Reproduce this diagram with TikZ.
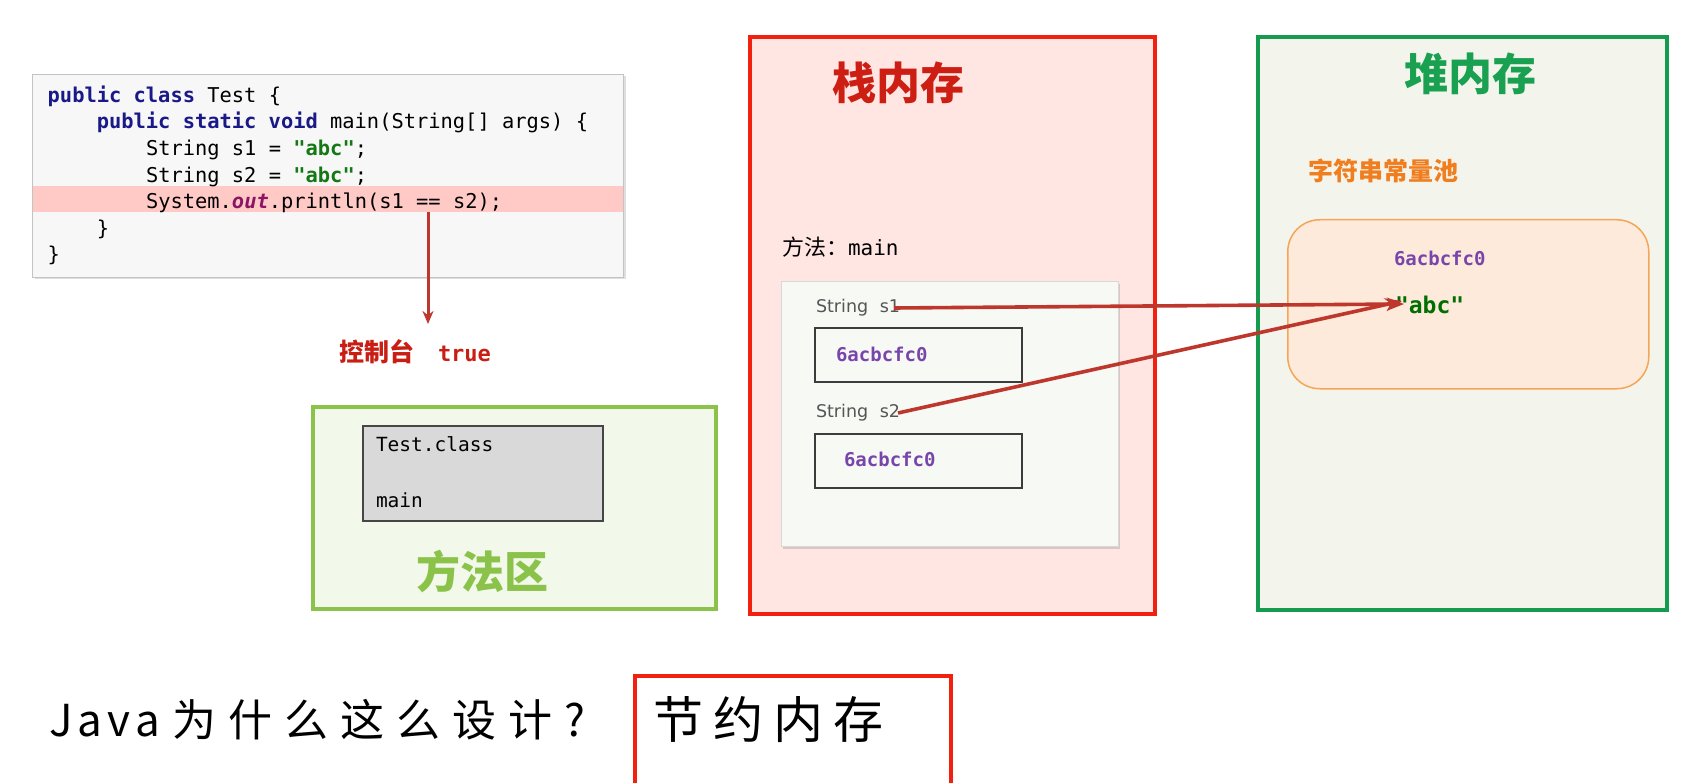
\documentclass[tikz,border=0pt]{standalone}
\usepackage{fontspec}
\setmainfont{DejaVu Sans}
\setmonofont{DejaVu Sans Mono}
\newfontfamily\cjk{Noto Sans CJK SC}
\usetikzlibrary{arrows.meta,shadows}
\definecolor{kw}{RGB}{25,25,135}
\definecolor{strg}{RGB}{20,120,20}
\definecolor{outc}{RGB}{140,20,100}
\definecolor{hl}{RGB}{255,202,198}
\definecolor{codebg}{RGB}{247,247,247}
\definecolor{arr}{RGB}{190,55,45}
\definecolor{conred}{RGB}{200,30,20}
\definecolor{mgreen}{RGB}{139,195,74}
\definecolor{mgreenbg}{RGB}{242,248,234}
\definecolor{sred}{RGB}{242,32,15}
\definecolor{sredbg}{RGB}{255,230,227}
\definecolor{stitle}{RGB}{205,30,20}
\definecolor{hgreen}{RGB}{20,155,80}
\definecolor{hgreenbg}{RGB}{243,245,237}
\definecolor{orangec}{RGB}{240,125,30}
\definecolor{poolbg}{RGB}{253,234,218}
\definecolor{poolbd}{RGB}{245,165,85}
\definecolor{addr}{RGB}{120,70,170}
\definecolor{abcc}{RGB}{0,110,0}
\tikzset{
  txt/.style={inner sep=0pt, outer sep=0pt},
  code/.style={txt, anchor=base west, font=\fontsize{20.4}{24}\ttfamily},
  area/.style={line width=4pt, anchor=north west},
  cell/.style={draw={rgb,255:red,60;green,60;blue,60}, line width=2.2pt, fill={rgb,255:red,247;green,249;blue,245}, anchor=north west, minimum width=207pt, minimum height=54pt, inner sep=0pt},
  addrtxt/.style={txt, anchor=west, text=addr, font=\fontsize{19}{22}\ttfamily\bfseries},
  ptr/.style={draw=arr, line width=3.6pt, -{Stealth[length=17pt,width=13pt]}},
  bigtitle/.style={txt, font=\fontsize{44}{50}\cjk\bfseries},
}
\begin{document}
\begin{tikzpicture}[x=1pt,y=-1pt]
\useasboundingbox (0,0) rectangle (1699,783);
\fill[white] (0,0) rectangle (1699,783);

% ---- code box
\node[draw={rgb,255:red,195;green,195;blue,195}, fill=codebg, line width=1pt, anchor=north west, minimum width=591pt, minimum height=203pt, inner sep=0pt, drop shadow={shadow xshift=2pt, shadow yshift=-2pt, opacity=0.25}] (codebox) at (32,74) {};
\fill[hl] (32.5,186) rectangle (622.5,212);
\node[code] (l1) at (47.7,103) {{\bfseries\color{kw}public class} Test \{};
\node[code] (l2) at (96.8,129) {{\bfseries\color{kw}public static void} main(String[] args) \{};
\node[code] (l3) at (146,156) {String s1 = {\bfseries\color{strg}"abc"};};
\node[code] (l4) at (146,183) {String s2 = {\bfseries\color{strg}"abc"};};
\node[code] (l5) at (146,209) {System.{\bfseries\itshape\color{outc}out}.println(s1 == s2);};
\node[code] (l6) at (96.8,236) {\}};
\node[code] (l7) at (47.7,262) {\}};

\coordinate (eq) at (428,212);
\coordinate (eqend) at (428,324);
\draw[draw=arr, line width=3pt, -{Stealth[length=13pt,width=11pt]}] (eq) -- (eqend);
\node[txt, anchor=west, text=conred] (console) at (339,352) {{\fontsize{25}{28}\cjk\bfseries 控制台}\hspace{24pt}{\fontsize{22}{26}\ttfamily\bfseries true}};

% ---- method area
\node[area, draw=mgreen, fill=mgreenbg, minimum width=403pt, minimum height=202pt] (marea) at (311,405) {};
\node[draw={rgb,255:red,70;green,70;blue,70}, fill={rgb,255:red,217;green,217;blue,217}, line width=1.6pt, anchor=north west, minimum width=240pt, minimum height=95pt, inner sep=0pt] (classbox) at (362,425) {};
\node[txt, anchor=base west, font=\fontsize{19.5}{22}\ttfamily] (tclass) at (376,451) {Test.class};
\node[txt, anchor=base west, font=\fontsize{19.5}{22}\ttfamily] (tmain) at (376,507) {main};
\node[bigtitle, text=mgreen] (mtitle) at (482,572) {方法区};

% ---- stack
\node[area, draw=sred, fill=sredbg, minimum width=405pt, minimum height=577pt] (stack) at (748,35) {};
\node[bigtitle, text=stitle] (stitle) at (898,83) {栈内存};
\node[txt, anchor=west] (mlabel) at (782,247) {{\fontsize{22}{26}\cjk 方法：}{\fontsize{21}{26}\ttfamily main}};
\node[draw={rgb,255:red,215;green,215;blue,215}, fill={rgb,255:red,247;green,249;blue,245}, line width=0.8pt, anchor=north west, minimum width=337pt, minimum height=265pt, inner sep=0pt, drop shadow={shadow xshift=2pt, shadow yshift=-3pt, opacity=0.3}] (frame) at (781,281) {};
\node[txt, anchor=west, text={rgb,255:red,85;green,85;blue,85}, font=\fontsize{17.5}{20}\selectfont] (s1) at (816,308) {String\hspace{6pt} s1};
\node[cell] (c1) at (814,327) {};
\node[addrtxt] (a1) at (836,354) {6acbcfc0};
\node[txt, anchor=west, text={rgb,255:red,85;green,85;blue,85}, font=\fontsize{17.5}{20}\selectfont] (s2) at (816,413) {String\hspace{6pt} s2};
\node[cell] (c2) at (814,433) {};
\node[addrtxt] (a2) at (844,459) {6acbcfc0};

% ---- heap
\node[area, draw=hgreen, fill=hgreenbg, minimum width=409pt, minimum height=573pt] (heap) at (1256,35) {};
\node[bigtitle, text={rgb,255:red,25;green,160;blue,80}] (htitle) at (1470,74) {堆内存};
\node[txt, anchor=west, text=orangec, font=\fontsize{25}{28}\cjk\bfseries] (pooltitle) at (1308,171) {字符串常量池};
\node[draw=poolbd, fill=poolbg, line width=1.5pt, rounded corners=32pt, anchor=north west, minimum width=361pt, minimum height=169pt, inner sep=0pt] (pool) at (1287,219) {};
\node[addrtxt] (ha) at (1394,258) {6acbcfc0};
\node[txt, anchor=west, text=abcc, font=\fontsize{23}{26}\ttfamily\bfseries] (abc) at (1395,305) {"abc"};

% ---- pointers
\coordinate (t1) at ([xshift=9pt, yshift=1pt]abc.west);
\coordinate (t2) at ([xshift=7pt, yshift=4pt]abc.west);
\draw[ptr] ([xshift=-6pt]s1.east) -- (t1);
\draw[ptr] ([xshift=-2pt]s2.east) -- (t2);

% ---- bottom
\node[txt, anchor=west, font=\fontsize{44}{50}\cjk] (question) at (49,720) {\makebox[536pt][s]{J\hspace{5pt}a\hspace{5pt}v\hspace{5pt}a\hfill 为\hfill 什\hfill 么\hfill 这\hfill 么\hfill 设\hfill 计\hfill ?}};
\draw[draw=sred, line width=3.5pt] (635,676) rectangle (951,800);
\node[txt, anchor=west, font=\fontsize{50}{56}\cjk] (answer) at (653,720) {\makebox[230pt][s]{节\hfill 约\hfill 内\hfill 存}};
\end{tikzpicture}
\end{document}
